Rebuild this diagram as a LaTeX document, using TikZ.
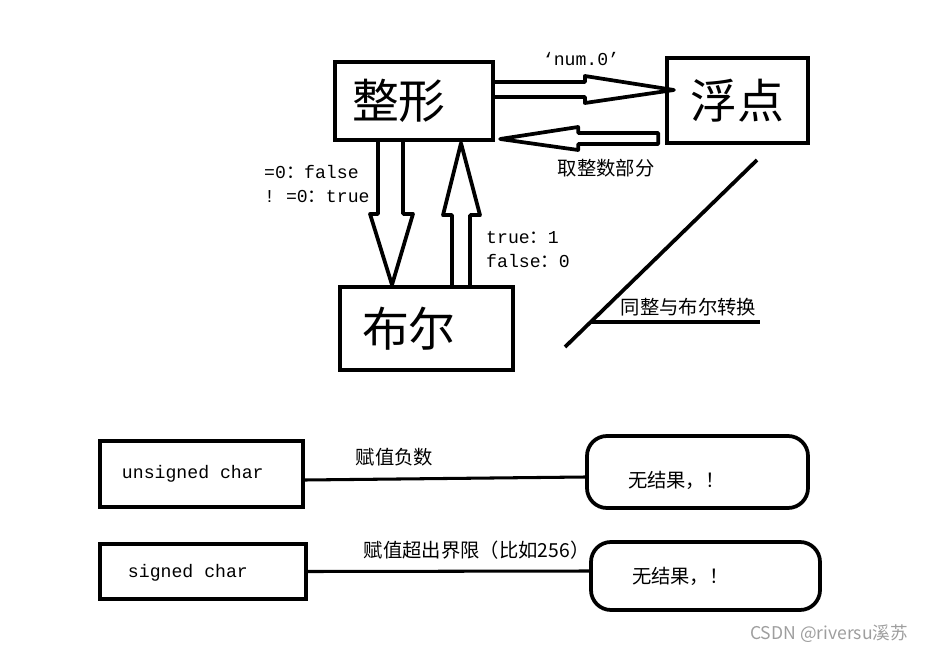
\documentclass[tikz,border=0pt]{standalone}
\usepackage{fontspec}
\setmonofont{Liberation Mono}
\newfontfamily\cjk{Noto Sans CJK SC}
\usetikzlibrary{positioning}

\newcommand{\bigcjk}{\cjk\fontsize{40pt}{48pt}\selectfont}
\newcommand{\labcjk}{\cjk\fontsize{16.5pt}{20pt}\selectfont}
\newcommand{\codefont}{\ttfamily\fontsize{15.5pt}{20.5pt}\selectfont}

\begin{document}
\begin{tikzpicture}[x=0.03cm, y=-0.03cm]
      \useasboundingbox (0,0) rectangle (927,652);

      \begin{scope}[every node/.style={rectangle, draw, line width=3.2pt, align=left}]
        \node [font=\bigcjk, minimum width=4.74cm, minimum height=2.34cm, text width=3.72cm, inner xsep=0.51cm] (int) at (414,101) {整形};
        \node [font=\bigcjk, minimum width=4.23cm, minimum height=2.55cm, align=center] (flt) at (737.5,100.5) {浮点};
        \node [font=\bigcjk, minimum width=5.19cm, minimum height=2.49cm, text width=3.87cm, inner xsep=0.66cm] (bool) at (426.5,328.5) {布尔};

        \node [font=\codefont, minimum width=6.09cm, minimum height=1.98cm, text width=4.77cm, inner xsep=0.66cm] (uchar) at (201.5,474) {unsigned\hspace{0.6em}char};
        \node [font=\codefont, minimum width=6.18cm, minimum height=1.65cm, text width=4.50cm, inner xsep=0.84cm, text height=0.5cm] (schar) at (203,571.5) {signed\hspace{0.6em}char};
        \node [font=\labcjk, rounded corners=0.6cm, minimum width=6.63cm, minimum height=2.16cm, text width=4.17cm, inner xsep=1.23cm, text height=1.0cm] (res1) at (697.5,472) {无结果，！};
        \node [font=\labcjk, rounded corners=0.6cm, minimum width=6.87cm, minimum height=2.04cm, text width=4.41cm, inner xsep=1.23cm] (res2) at (705.5,576) {无结果，！};
      \end{scope}

      % hollow block arrows
      \begin{scope}[line width=3.2pt, line join=round]
        \draw ([yshift=0.57cm]int.east) -- ++(90,0) -- ++(0,-6) -- ++(89,14) -- ++(-89,13) -- ++(0,-6) -- ++(-90,0);
        \draw ([xshift=-0.21cm, yshift=-0.975cm]flt.west) -- ++(-80,0) -- ++(0,-6) -- ++(-78,12) -- ++(78,11) -- ++(0,-6) -- ++(80,0) -- cycle;
        \draw ([xshift=-1.08cm]int.south) -- ++(0,72) -- ++(-8,0) -- ++(22,71) -- ++(21,-71) -- ++(-10,0) -- ++(0,-72);
        \draw ([xshift=0.765cm]bool.north) -- ++(0,-70) -- ++(-9,0) -- ++(18,-72) -- ++(19,72) -- ++(-10,0) -- ++(0,70);
      \end{scope}

      \begin{scope}[every node/.style={inner sep=0pt}]
        \node [font=\codefont] (numlab) at (581,59) {‘num.0’};
        \node [font=\labcjk] (cutlab) at (606,168) {取整数部分};
        \node [font=\codefont, anchor=west, align=left] (tobool) at (264,184) {=0{\cjk ：}false\\! =0{\cjk ：}true};
        \node [font=\codefont, anchor=west, align=left] (toint) at (486,250) {true{\cjk ：}1\\false{\cjk ：}0};

        \draw [line width=3.2pt] (565,347) -- (757,160);
        \draw [line width=3.2pt] (590,322) -- node [font=\labcjk, above=0.12cm, pos=0.58] (samelab) {同整与布尔转换} (760,322);

        \draw [line width=2.6pt] ([yshift=-0.18cm]uchar.east) -- node [font=\labcjk, above=0.33cm, pos=0.32] (neglab) {赋值负数} ([yshift=-0.15cm]res1.west);
        \draw [line width=2.6pt] (schar.east) -- node [font=\labcjk, above=0.3cm, pos=0.6] (overlab) {赋值超出界限（比如256）} ([yshift=0.15cm]res2.west);

        \node [text=black!38, font=\cjk\fontsize{15pt}{17pt}\selectfont] (mark) at (829,634) {CSDN @riversu溪苏};
      \end{scope}
   \end{tikzpicture}
\end{document}
